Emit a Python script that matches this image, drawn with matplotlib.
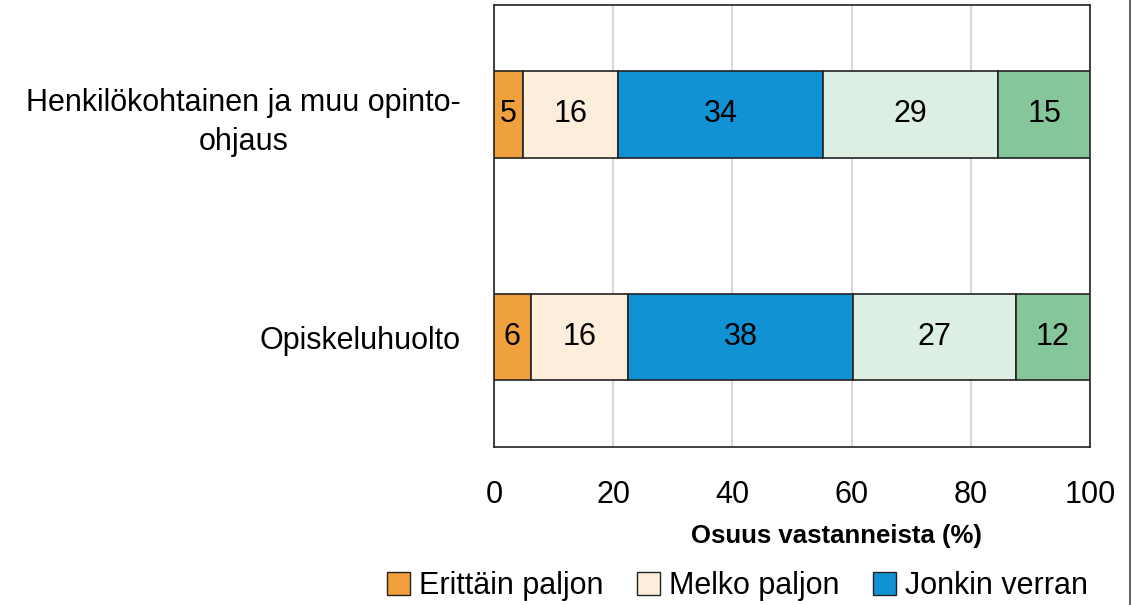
import matplotlib.pyplot as plt
import numpy as np
from matplotlib import font_manager
from matplotlib.patches import Patch
from matplotlib.lines import Line2D

# data (shares in %, labels shown rounded)
categories = ["Henkilökohtainen ja muu opinto-\nohjaus", "Opiskeluhuolto"]
series = ["Erittäin paljon", "Melko paljon", "Jonkin verran", "Vähän", "Ei lainkaan"]
values = [
    [4.9, 6.2],
    [15.9, 16.3],
    [34.4, 37.7],
    [29.4, 27.4],
    [15.4, 12.4],
]
colors = ["#F0A03C", "#FDEEDC", "#1192D4", "#DDEEE3", "#85C79A"]
xticks = [0, 20, 40, 60, 80, 100]

names = set(f.name for f in font_manager.fontManager.ttflist)
if "Liberation Sans Narrow" in names:
    fam = "Liberation Sans Narrow"
    fs = 26
    fsb = 22
else:
    fam = "Liberation Sans"
    fs = 22
    fsb = 18.5
plt.rcParams['font.family'] = [fam, 'DejaVu Sans']

fig = plt.figure(figsize=(11.32, 6.05), dpi=100)
ax = fig.add_axes([494/1132, 1-447/605, 596/1132, 442/605])

ypos = np.array([1, 0])
left = np.zeros(2)
for i, s in enumerate(series):
    v = np.array(values[i])
    ax.barh(ypos, v, left=left, height=0.39, color=colors[i], edgecolor="#222222", linewidth=1.2, zorder=3)
    for j in range(2):
        ax.text(left[j] + v[j] / 2, ypos[j], "%d" % round(v[j]), ha="center", va="center", fontsize=fs, zorder=4)
    left += v

ax.set_xlim(0, 100)
ax.set_ylim(-0.494, 1.492)
ax.set_xticks(xticks)
ax.set_xticklabels([str(t) for t in xticks], fontsize=fs)
ax.set_yticks(ypos)
ax.set_yticklabels(categories, fontsize=fs, linespacing=1.4, multialignment="center")
ax.tick_params(axis="both", length=0)
ax.tick_params(axis="x", pad=24)
ax.tick_params(axis="y", pad=24)
ax.xaxis.grid(True, color="#D9D9D9", linewidth=1.5, zorder=0)
ax.set_axisbelow(True)
for sp in ax.spines.values():
    sp.set_color("#222222")
    sp.set_linewidth(1.2)

ax.set_xlabel("Osuus vastanneista (%)", fontsize=fsb, fontweight="bold")
ax.xaxis.set_label_coords(0.574, -0.175)

handles = [Patch(facecolor=colors[i], edgecolor="#222222", linewidth=1) for i in range(3)]
fig.legend(handles, series[:3], loc="center left", bbox_to_anchor=(387/1132, 1-586/605),
           ncol=3, frameon=False, fontsize=fs, handlelength=0.75, handleheight=0.75,
           handletextpad=0.3, columnspacing=1.1, borderpad=0, borderaxespad=0)

fig.add_artist(Line2D([1130/1132, 1130/1132], [0, 1], color="#444444", linewidth=1.2))

fig.savefig("out.png", dpi=100)
